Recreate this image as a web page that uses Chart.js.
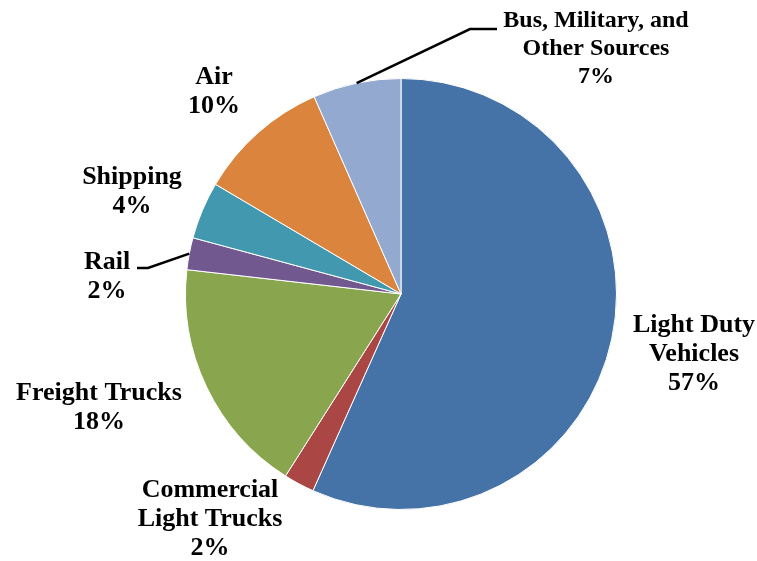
<!DOCTYPE html>
<html>
<head>
<meta charset="utf-8">
<script src="https://cdn.jsdelivr.net/npm/chart.js@4"></script>
<style>
  html, body { margin: 0; padding: 0; background: #fff; }
  #wrap { width: 757px; height: 561px; }
</style>
</head>
<body>
<div id="wrap"><canvas id="chart" width="757" height="561"></canvas></div>
<script>
// Datos (porcentaje del total)
const categories = [
  ["Light Duty", "Vehicles"],
  ["Commercial", "Light Trucks"],
  ["Freight Trucks"],
  ["Rail"],
  ["Shipping"],
  ["Air"],
  ["Bus, Military, and", "Other Sources"],
]
const shares = [56.7, 2.3, 17.8, 2.4, 4.3, 9.9, 6.6]
const percentLabels = ["57%", "2%", "18%", "2%", "4%", "10%", "7%"]

const sliceColors = ["#4572A7", "#AA4643", "#89A54E", "#71588F", "#4198AF", "#DB843D", "#93A9CF"]

// Posición de cada etiqueta (centro x, y de la primera línea) y tamaño de letra
const labelLayout = [
  { x: 694, y: 325, size: 26 },
  { x: 210, y: 490, size: 26 },
  { x: 99, y: 393, size: 26 },
  { x: 107, y: 262, size: 26 },
  { x: 132, y: 177, size: 26 },
  { x: 214, y: 77, size: 26 },
  { x: 596, y: 21, size: 24, lineH: 28 },
]
// Líneas guía: punto de quiebre y final
const leaders = {
  3: [[148, 268], [137, 268]],
  6: [[470, 29], [497, 29]],
}

const labelPlugin = {
  id: "outLabels",
  afterDraw(chart) {
    const ctx = chart.ctx
    const meta = chart.getDatasetMeta(0)
    ctx.save()
    meta.data.forEach((arc, i) => {
      const lay = labelLayout[i]
      const lines = categories[i].concat([percentLabels[i]])
      const lh = lay.lineH || 29
      ctx.fillStyle = "#000"
      ctx.textAlign = "center"
      ctx.textBaseline = "middle"
      ctx.font = `bold ${lay.size}px "Liberation Serif", "Times New Roman", serif`
      lines.forEach((t, k) => ctx.fillText(t, lay.x, lay.y + k * lh))

      if (leaders[i]) {
        const mid = (arc.startAngle + arc.endAngle) / 2
        const sx = arc.x + Math.cos(mid) * arc.outerRadius
        const sy = arc.y + Math.sin(mid) * arc.outerRadius
        ctx.strokeStyle = "#000"
        ctx.lineWidth = 2.5
        ctx.beginPath()
        ctx.moveTo(sx, sy)
        leaders[i].forEach(([px, py]) => ctx.lineTo(px, py))
        ctx.stroke()
      }
    })
    ctx.restore()
  },
}

new Chart(document.getElementById("chart").getContext("2d"), {
  type: "pie",
  data: {
    labels: categories.map((c) => c.join(" ")),
    datasets: [
      {
        data: shares,
        backgroundColor: sliceColors,
        borderColor: "#ffffff",
        borderWidth: 1,
      },
    ],
  },
  options: {
    responsive: false,
    animation: false,
    layout: { padding: { top: 78, bottom: 51, left: 185, right: 140 } },
    plugins: {
      legend: { display: false },
      tooltip: { enabled: false },
    },
  },
  plugins: [labelPlugin],
})
</script>
</body>
</html>
